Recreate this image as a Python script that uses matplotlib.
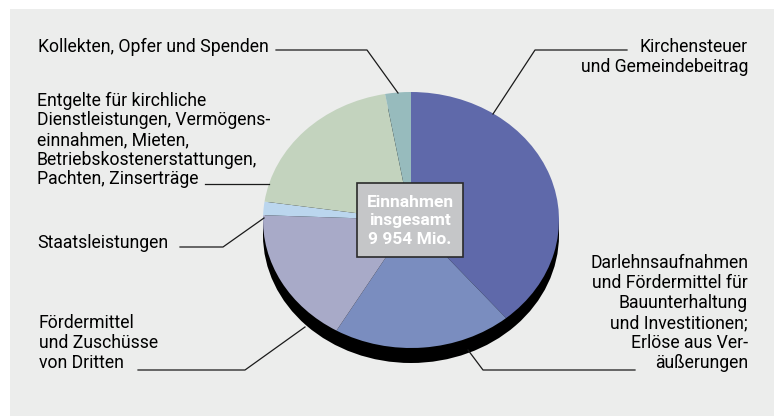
import matplotlib.pyplot as plt
from matplotlib.patches import Ellipse, Rectangle
from matplotlib.lines import Line2D

# Einnahmen in Mio.
categories = [
    'Kirchensteuer und Gemeindebeitrag',
    'Darlehnsaufnahmen und Fördermittel',
    'Fördermittel und Zuschüsse von Dritten',
    'Staatsleistungen',
    'Entgelte, Vermögenseinnahmen usw.',
    'Kollekten, Opfer und Spenden',
]
values = [3872, 1941, 1712, 169, 1981, 279]
total_label = 'Einnahmen\ninsgesamt\n9 954 Mio.'

colors = ['#5F69AA', '#7A8DBF', '#A8AAC8', '#BBD6EE', '#C3D3BE', '#97BBBD']
bg = '#ECEDEC'
line_col = '#1A1A1A'
font = ['Roboto', 'DejaVu Sans']

W, H = 774, 416
fig = plt.figure(figsize=(W / 100, H / 100), dpi=100, facecolor='white')


def px(x, y):
    # pixel (from top left) -> figure fraction
    return x / W, 1 - y / H


# grey panel
fig.patches.append(Rectangle(px(10, 416), (W - 10) / W, (416 - 9) / H,
                             transform=fig.transFigure, facecolor=bg,
                             edgecolor='none', zorder=-5))

# pie axes: top face of the "3D" pie is an ellipse
cx, cy, rx, ry = 411, 220, 148, 128
depth = 15
ax = fig.add_axes([(cx - rx) / W, (H - (cy + ry)) / H, 2 * rx / W, 2 * ry / H])
ax.patch.set_visible(False)

d = depth / ry
ax.add_patch(Ellipse((0, -d), 2, 2, facecolor='black', edgecolor='none',
                     clip_on=False, zorder=0))
ax.add_patch(Rectangle((-1, -d), 2, d, facecolor='black', edgecolor='none',
                       clip_on=False, zorder=0))
wedges, _ = ax.pie(values, colors=colors, startangle=90, counterclock=False,
                   radius=1, wedgeprops=dict(linewidth=0))
for w in wedges:
    w.set_zorder(2)
ax.set_aspect('auto')
ax.set_xlim(-1, 1)
ax.set_ylim(-1, 1)
ax.axis('off')


def leader(points):
    xs = [p[0] / W for p in points]
    ys = [1 - p[1] / H for p in points]
    fig.add_artist(Line2D(xs, ys, transform=fig.transFigure, color=line_col,
                          linewidth=0.9, zorder=5))


fs = 12.7
# labels
fig.text(*px(38, 47), 'Kollekten, Opfer und Spenden', fontsize=fs,
         family=font, va='center', ha='left')
leader([(276, 50), (367, 50), (398, 93)])

fig.text(*px(748, 57), 'Kirchensteuer\nund Gemeindebeitrag', fontsize=fs,
         family=font, va='center', ha='right', ma='right', linespacing=1.17)
leader([(627, 50), (535, 50), (493, 114)])

fig.text(*px(37, 140), 'Entgelte für kirchliche\nDienstleistungen, Vermögens-\n'
         'einnahmen, Mieten,\nBetriebskostenerstattungen,\nPachten, Zinserträge',
         fontsize=fs, family=font, va='center', ha='left', linespacing=1.12)
leader([(205, 184), (269, 184)])

fig.text(*px(37, 243), 'Staatsleistungen', fontsize=fs, family=font,
         va='center', ha='left')
leader([(180, 247), (223, 247), (264, 218)])

fig.text(*px(39, 343), 'Fördermittel\nund Zuschüsse\nvon Dritten', fontsize=fs,
         family=font, va='center', ha='left', linespacing=1.15)
leader([(138, 370), (245, 370), (305, 327)])

fig.text(*px(748, 313), 'Darlehnsaufnahmen\nund Fördermittel für\nBauunterhaltung\n'
         'und Investitionen;\nErlöse aus Ver-\näußerungen', fontsize=fs,
         family=font, va='center', ha='right', ma='right', linespacing=1.15)
leader([(635, 370), (483, 370), (468, 350)])

# centre box
fig.patches.append(Rectangle(px(357, 257), 106 / W, 74 / H,
                             transform=fig.transFigure, facecolor='#C5C6C8',
                             edgecolor='#2A2A2A', linewidth=1.2, zorder=6))
fig.text(*px(410, 221), total_label, fontsize=12.5, family=font,
         fontweight='bold', color='white', ha='center', va='center',
         linespacing=1.3, zorder=7)

fig.savefig('out.png', dpi=100, facecolor=fig.get_facecolor())
